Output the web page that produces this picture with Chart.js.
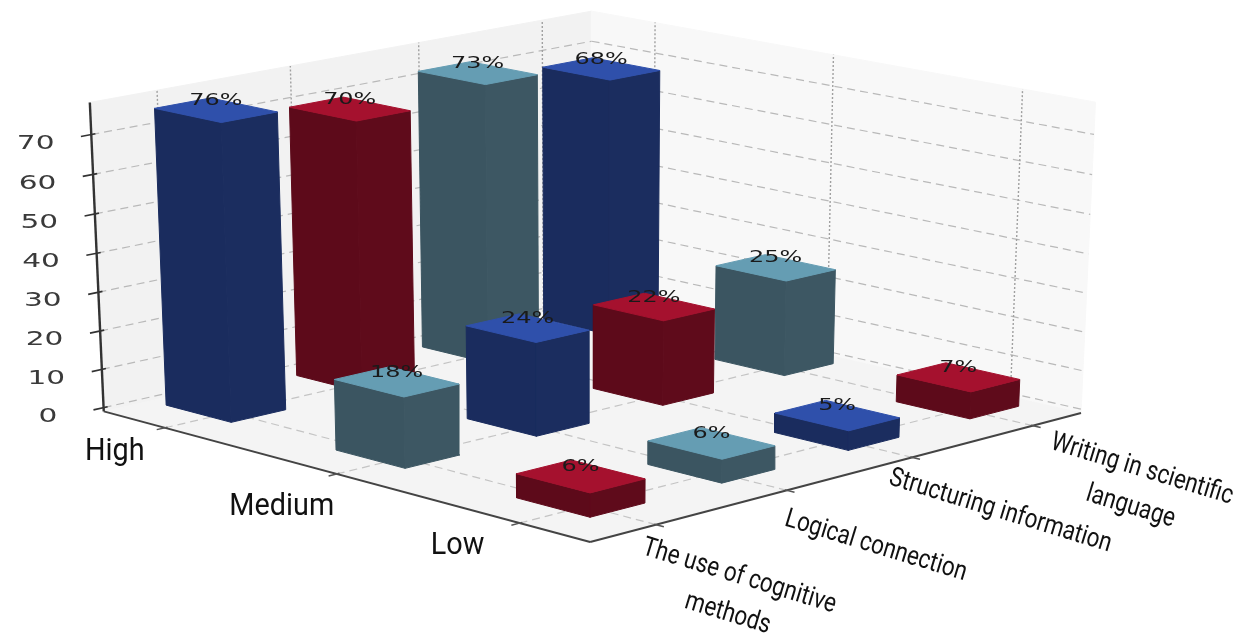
<!DOCTYPE html>
<html>
<head>
<meta charset="utf-8">
<title>Skill levels</title>
<script src="https://cdn.jsdelivr.net/npm/chart.js@4"></script>
<style>
  html, body { margin: 0; padding: 0; background: #fff; }
  #wrap { width: 1241px; height: 633px; }
</style>
</head>
<body>
<div id="wrap"><canvas id="chart" width="1241" height="633"></canvas></div>
<script>
const levels = ['High', 'Medium', 'Low'];
const categories = [
  ['The use of cognitive', 'methods'],
  ['Logical connection'],
  ['Structuring information'],
  ['Writing in scientific', 'language']
];
const highValues = [76, 70, 73, 68];
const mediumValues = [18, 24, 22, 25];
const lowValues = [6, 6, 5, 7];
const zTicks = [0, 10, 20, 30, 40, 50, 60, 70];

const BLUE = { top: '#2f50ab', left: '#1a2c5e', right: '#1b2d5f' };
const RED = { top: '#a5112e', left: '#5d0a1a', right: '#5f0b1b' };
const TEAL = { top: '#659db3', left: '#3b5561', right: '#3d5763' };
const barColors = [
  [BLUE, RED, TEAL, BLUE],
  [TEAL, BLUE, RED, TEAL],
  [RED, TEAL, BLUE, RED]
];

// extent of the 3D box, in level / category / value units
const U_MIN = -0.37, U_MAX = 2.37;
const V_MIN = -0.49, V_MAX = 3.41;
const Z_MIN = -1, Z_MAX = 78;

// footprint of a bar relative to its tick
const BAR_U0 = -0.225, BAR_U1 = 0.165;
const BAR_V0 = -0.2, BAR_V1 = 0.212;

// anchors used to solve the camera: world position -> canvas position
const anchors = [
  [U_MIN, V_MIN, Z_MIN, 102.5, 413], [U_MAX, V_MIN, Z_MIN, 591.7, 541],
  [U_MAX, V_MAX, Z_MIN, 1082.7, 413], [U_MIN, V_MAX, Z_MIN, 591.7, 297],
  [U_MIN, V_MIN, Z_MAX, 87.5, 102], [U_MIN, V_MAX, Z_MAX, 591.7, 14],
  [U_MAX, V_MAX, Z_MAX, 1096.7, 101.7],
  [U_MIN, V_MIN, 70, 93.3, 132.7], [U_MIN, V_MAX, 70, 591.7, 42.3], [U_MAX, V_MAX, 70, 1093, 132.7],
  [0, V_MIN, Z_MIN, 165, 429], [1, V_MIN, Z_MIN, 338, 474], [2, V_MIN, Z_MIN, 522, 522],
  [U_MAX, 0, Z_MIN, 655, 524], [U_MAX, 1, Z_MIN, 783.3, 492.3],
  [U_MAX, 2, Z_MIN, 910.5, 459], [U_MAX, 3, Z_MIN, 1033, 426.7]
];

function solveLinear(A, b) {
  const n = b.length;
  for (let c = 0; c < n; c++) {
    let piv = c;
    for (let r = c + 1; r < n; r++) if (Math.abs(A[r][c]) > Math.abs(A[piv][c])) piv = r;
    [A[c], A[piv]] = [A[piv], A[c]];
    [b[c], b[piv]] = [b[piv], b[c]];
    for (let r = c + 1; r < n; r++) {
      const f = A[r][c] / A[c][c];
      for (let k = c; k < n; k++) A[r][k] -= f * A[c][k];
      b[r] -= f * b[c];
    }
  }
  const x = new Array(n).fill(0);
  for (let r = n - 1; r >= 0; r--) {
    let s = b[r];
    for (let k = r + 1; k < n; k++) s -= A[r][k] * x[k];
    x[r] = s / A[r][r];
  }
  return x;
}

// least squares for the 3x4 projection (last entry fixed at 1)
function solveCamera(pts) {
  const N = Array.from({ length: 11 }, () => new Array(11).fill(0));
  const rhs = new Array(11).fill(0);
  const addRow = (row, val) => {
    for (let i = 0; i < 11; i++) {
      rhs[i] += row[i] * val;
      for (let j = 0; j < 11; j++) N[i][j] += row[i] * row[j];
    }
  };
  pts.forEach(([u, v, z, px, py]) => {
    addRow([u, v, z, 1, 0, 0, 0, 0, -px * u, -px * v, -px * z], px);
    addRow([0, 0, 0, 0, u, v, z, 1, -py * u, -py * v, -py * z], py);
  });
  return solveLinear(N, rhs);
}

const cam = solveCamera(anchors);

function project(u, v, z) {
  const w = cam[8] * u + cam[9] * v + cam[10] * z + 1;
  return {
    x: (cam[0] * u + cam[1] * v + cam[2] * z + cam[3]) / w,
    y: (cam[4] * u + cam[5] * v + cam[6] * z + cam[7]) / w
  };
}

const datasets = [];

function addFace(corners, color) {
  datasets.push({
    data: corners.map(c => project(c[0], c[1], c[2])).concat([project(corners[0][0], corners[0][1], corners[0][2])]),
    showLine: true, fill: 'shape', tension: 0, pointRadius: 0,
    backgroundColor: color, borderColor: color, borderWidth: 1
  });
}

function addLine(a, b, color, width, dash) {
  datasets.push({
    data: [project(a[0], a[1], a[2]), project(b[0], b[1], b[2])],
    showLine: true, fill: false, tension: 0, pointRadius: 0,
    borderColor: color, borderWidth: width, borderDash: dash || []
  });
}

// walls and floor
addFace([[U_MIN, V_MIN, Z_MIN], [U_MIN, V_MAX, Z_MIN], [U_MIN, V_MAX, Z_MAX], [U_MIN, V_MIN, Z_MAX]], '#f2f2f2');
addFace([[U_MIN, V_MAX, Z_MIN], [U_MAX, V_MAX, Z_MIN], [U_MAX, V_MAX, Z_MAX], [U_MIN, V_MAX, Z_MAX]], '#f8f8f8');
addFace([[U_MIN, V_MIN, Z_MIN], [U_MAX, V_MIN, Z_MIN], [U_MAX, V_MAX, Z_MIN], [U_MIN, V_MAX, Z_MIN]], '#f4f4f4');

// grid lines
const GRID_DASH = [8, 5], GRID_DOT = [2, 2];
zTicks.forEach(z => {
  addLine([U_MIN, V_MIN, z], [U_MIN, V_MAX, z], '#b9b9b9', 1.2, GRID_DASH);
  addLine([U_MIN, V_MAX, z], [U_MAX, V_MAX, z], '#b9b9b9', 1.2, GRID_DASH);
});
levels.forEach((_, i) => {
  addLine([i, V_MIN, Z_MIN], [i, V_MAX, Z_MIN], '#c4c4c4', 1.2, GRID_DASH);
  addLine([i, V_MAX, Z_MIN], [i, V_MAX, Z_MAX], '#a0a0a0', 1.4, GRID_DOT);
});
categories.forEach((_, j) => {
  addLine([U_MAX, j, Z_MIN], [U_MIN, j, Z_MIN], '#c4c4c4', 1.2, GRID_DASH);
  addLine([U_MIN, j, Z_MIN], [U_MIN, j, Z_MAX], '#a0a0a0', 1.4, GRID_DOT);
});

// axes and tick marks
addLine([U_MIN, V_MIN, Z_MIN], [U_MIN, V_MIN, Z_MAX], '#333333', 2.4);
addLine([U_MIN, V_MIN, Z_MIN], [U_MAX, V_MIN, Z_MIN], '#444444', 2);
addLine([U_MAX, V_MIN, Z_MIN], [U_MAX, V_MAX, Z_MIN], '#444444', 2);
zTicks.forEach(z => addLine([U_MIN, V_MIN - 0.075, z], [U_MIN, V_MIN + 0.03, z], '#333333', 1.6));
levels.forEach((_, i) => addLine([i, V_MIN - 0.06, Z_MIN], [i, V_MIN + 0.02, Z_MIN], '#555555', 1.5));
categories.forEach((_, j) => addLine([U_MAX + 0.04, j, Z_MIN], [U_MAX - 0.01, j, Z_MIN], '#555555', 1.5));

// bars, far to near so closer ones cover the ones behind
const rows = [highValues, mediumValues, lowValues];
const bars = [];
rows.forEach((row, i) => row.forEach((value, j) => bars.push({ i, j, value })));
bars.sort((a, b) => (a.i - a.j) - (b.i - b.j));

bars.forEach(({ i, j, value }) => {
  const u0 = i + BAR_U0, u1 = i + BAR_U1, v0 = j + BAR_V0, v1 = j + BAR_V1;
  const c = barColors[i][j];
  addFace([[u0, v0, 0], [u1, v0, 0], [u1, v0, value], [u0, v0, value]], c.left);
  addFace([[u1, v0, 0], [u1, v1, 0], [u1, v1, value], [u1, v0, value]], c.right);
  addFace([[u0, v0, value], [u1, v0, value], [u1, v1, value], [u0, v1, value]], c.top);
});

// Chart.js paints the first dataset last, so flip to keep the back-to-front build order
datasets.reverse();

function stretchedText(ctx, str, x, y, font, color, sx, angle) {
  ctx.save();
  ctx.translate(x, y);
  if (angle) ctx.rotate(angle);
  ctx.scale(sx, 1);
  ctx.font = font;
  ctx.fillStyle = color;
  ctx.textAlign = 'center';
  ctx.textBaseline = 'middle';
  ctx.fillText(str, 0, 0);
  ctx.restore();
}

const CAT_ANGLE = 17 * Math.PI / 180;
const catOffsets = [[83, 52], [89, 56], [88, 54], [109, 44]];
const catLineStep = 39;
const levelOffsets = [[-50, 24], [-55, 33], [-62, 23]];

const labelsPlugin = {
  id: 'labels3d',
  afterDatasetsDraw(chart) {
    const { ctx, scales } = chart;
    const toCanvas = p => ({ x: scales.x.getPixelForValue(p.x), y: scales.y.getPixelForValue(p.y) });

    // value labels above the top of each bar
    bars.forEach(({ i, j, value }) => {
      const p = toCanvas(project(i + (BAR_U0 + BAR_U1) / 2, j + (BAR_V0 + BAR_V1) / 2, value));
      stretchedText(ctx, value + '%', p.x, p.y - 9.5, '16.5px "DejaVu Sans"', '#1a1a1a', 1.45);
    });

    zTicks.forEach(z => {
      const p = toCanvas(project(U_MIN, V_MIN, z));
      stretchedText(ctx, String(z), p.x - 55.6, p.y + 9, '20px "DejaVu Sans"', '#3a3a3a', 1.48);
    });

    levels.forEach((name, i) => {
      const p = toCanvas(project(i, V_MIN, Z_MIN));
      stretchedText(ctx, name, p.x + levelOffsets[i][0], p.y + levelOffsets[i][1], '32px Roboto', '#111111', 0.9);
    });

    categories.forEach((lines, j) => {
      const p = toCanvas(project(U_MAX, j, Z_MIN));
      lines.forEach((line, n) => {
        const x = p.x + catOffsets[j][0] - Math.sin(CAT_ANGLE) * catLineStep * n;
        const y = p.y + catOffsets[j][1] + Math.cos(CAT_ANGLE) * catLineStep * n;
        stretchedText(ctx, line, x, y, '27px Roboto', '#111111', 0.83, CAT_ANGLE);
      });
    });
  }
};

new Chart(document.getElementById('chart'), {
  type: 'scatter',
  data: { datasets },
  options: {
    responsive: false,
    animation: false,
    events: [],
    layout: { padding: 0 },
    elements: { line: { borderCapStyle: 'butt', borderJoinStyle: 'miter' } },
    scales: {
      x: { type: 'linear', min: 0, max: 1241, display: false },
      y: { type: 'linear', min: 0, max: 633, reverse: true, display: false }
    },
    plugins: {
      legend: { display: false },
      title: { display: false },
      tooltip: { enabled: false }
    }
  },
  plugins: [labelsPlugin]
});
</script>
</body>
</html>
